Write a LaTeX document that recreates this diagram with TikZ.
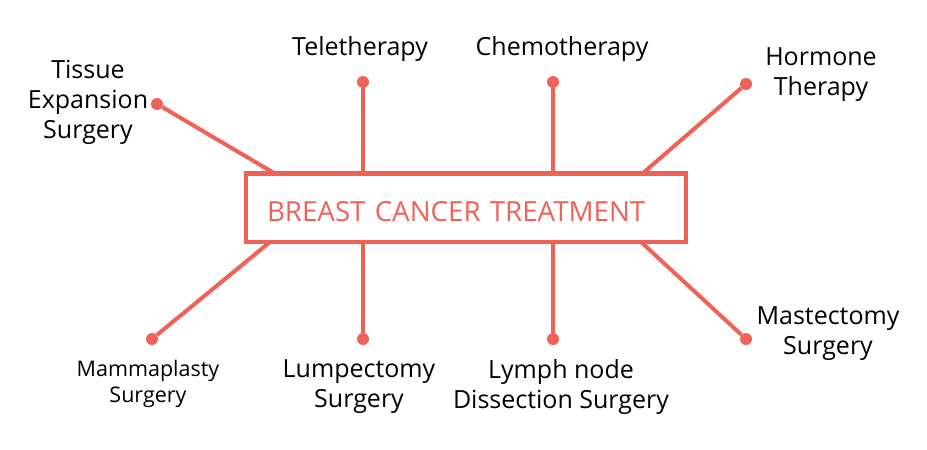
\documentclass[tikz,border=0pt]{standalone}
\usepackage{fontspec}
\setmainfont{Open Sans}
\definecolor{coral}{RGB}{240,97,87}

\begin{document}
\begin{tikzpicture}[x=1pt,y=-1pt]
  \tikzstyle{dot}=[circle,fill=coral,minimum size=12pt,inner sep=0pt]
  \tikzstyle{spoke}=[draw=coral,line width=4pt]
  \tikzstyle{topic}=[align=center,font=\fontsize{25}{30}\selectfont]
  \tikzstyle{smalltopic}=[align=center,font=\fontsize{21.5}{26}\selectfont]
  \useasboundingbox (0,0) rectangle (927,450);

  \node[dot] (D_1) at (157,104) {};
  \node[dot] (D_2) at (363,82)  {};
  \node[dot] (D_3) at (553,82)  {};
  \node[dot] (D_4) at (746,84)  {};
  \node[dot] (D_5) at (152,339) {};
  \node[dot] (D_6) at (363,339) {};
  \node[dot] (D_7) at (553,339) {};
  \node[dot] (D_8) at (746,339) {};

  \coordinate (B_1) at (274,173);
  \coordinate (B_2) at (363,173);
  \coordinate (B_3) at (553,173);
  \coordinate (B_4) at (643,173);
  \coordinate (B_5) at (270,242);
  \coordinate (B_6) at (363,242);
  \coordinate (B_7) at (553,242);
  \coordinate (B_8) at (641,242);

  \draw[spoke] (D_1) -- (B_1);
  \draw[spoke] (D_2) -- (B_2);
  \draw[spoke] (D_3) -- (B_3);
  \draw[spoke] (D_4) -- (B_4);
  \draw[spoke] (D_5) -- (B_5);
  \draw[spoke] (D_6) -- (B_6);
  \draw[spoke] (D_7) -- (B_7);
  \draw[spoke] (D_8) -- (B_8);

  \node[draw=coral,line width=4.5pt,fill=white,text=coral,
        minimum height=68.5pt,text width=398pt,inner xsep=21pt,inner ysep=0pt,
        align=left,text height=28pt,text depth=0pt,
        font=\fontsize{27.7}{30}\selectfont] (box) at (466,207.75) {BREAST CANCER TREATMENT};

  \node[topic] (L_1) at (88,102)  {Tissue\\Expansion\\Surgery};
  \node[topic] (L_2) at (360,49)  {Teletherapy};
  \node[topic] (L_3) at (562,49)  {Chemotherapy};
  \node[topic] (L_4) at (821,75)  {Hormone\\Therapy};
  \node[smalltopic] (L_5) at (148,384) {Mammaplasty\\Surgery};
  \node[topic] (L_6) at (359,387) {Lumpectomy\\Surgery};
  \node[topic] (L_7) at (561,387) {Lymph node\\Dissection Surgery};
  \node[topic] (L_8) at (828,334) {Mastectomy\\Surgery};
\end{tikzpicture}
\end{document}
